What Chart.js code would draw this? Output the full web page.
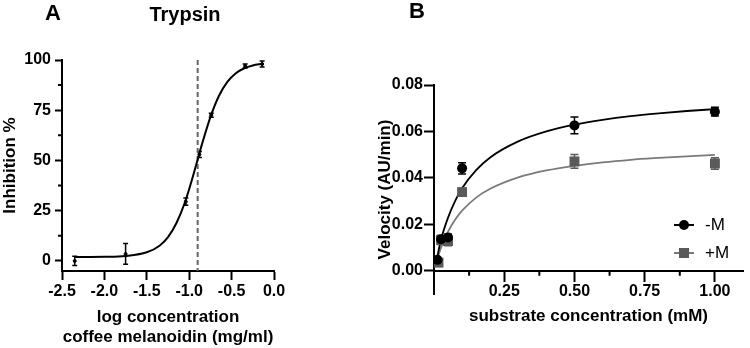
<!DOCTYPE html>
<html>
<head>
<meta charset="utf-8">
<script src="https://cdn.jsdelivr.net/npm/chart.js@4.4.1/dist/chart.umd.min.js"></script>
<style>
  html, body { margin: 0; padding: 0; background: #fff; }
  #wrap { position: relative; width: 750px; height: 348px; overflow: hidden; font-family: "Liberation Sans", Arial, sans-serif; }
  canvas { position: absolute; top: 0; }
  .lbl { position: absolute; font-weight: bold; line-height: 1; color: #000; white-space: nowrap; }
</style>
</head>
<body>
<div id="wrap">
  <canvas id="chartA" width="300" height="348" style="left:0"></canvas>
  <canvas id="chartB" width="375" height="348" style="left:375px"></canvas>
  <div class="lbl" style="left:45px;top:2px;font-size:22px">A</div>
  <div class="lbl" style="left:85px;top:4px;width:200px;text-align:center;font-size:20px">Trypsin</div>
  <div class="lbl" style="left:409px;top:0px;font-size:22px">B</div>
</div>
<script>
// ---- panel A: trypsin inhibition vs log concentration ----
const logConc = [-2.35, -1.75, -1.04, -0.88, -0.74, -0.34, -0.14];
const inhibition = [0, 3.5, 29.5, 53, 72.5, 97, 98];
const inhibitionErr = [2.3, 5.2, 1.8, 1.5, 1, 1, 1.5];
// fitted curve
const fitLogConc = [-2.35, -2.0, -1.75, -1.5, -1.35, -1.25, -1.15, -1.05, -0.95, -0.9, -0.85, -0.75, -0.65, -0.55, -0.45, -0.35, -0.25, -0.14];
const fitInhibition = [2.0, 2.1, 2.5, 4.3, 7.6, 11.9, 18.9, 29.2, 43.0, 50.5, 58.0, 71.6, 82.1, 89.1, 93.4, 95.9, 97.3, 98.1];
const ic50Log = -0.9;
const xTicksA = [-2.5, -2.0, -1.5, -1.0, -0.5, 0.0];
const yTicksA = [0, 25, 50, 75, 100];
const yMinorA = [12.5, 37.5, 62.5, 87.5];

// ---- panel B: velocity vs substrate ----
const seriesNames = ["-M", "+M"];
const substrateMinus = [0.0125, 0.025, 0.05, 0.1, 0.5, 1.0];
const velMinus = [0.0047, 0.0136, 0.0143, 0.0441, 0.0626, 0.0685];
const velMinusErr = [0.0005, 0.001, 0.0015, 0.0024, 0.0036, 0.0019];
const substratePlus = [0.016, 0.025, 0.05, 0.1, 0.5, 1.0];
const velPlus = [0.0035, 0.0133, 0.0128, 0.0339, 0.0471, 0.0462];
const velPlusErr = [0.0008, 0.002, 0.002, 0.001, 0.003, 0.0025];
const fitSubstrate = [0.0125, 0.025, 0.05, 0.075, 0.1, 0.15, 0.2, 0.3, 0.4, 0.5, 0.6, 0.7, 0.8, 0.9, 1.0];
const fitMinus = [0.0065, 0.0135, 0.0229, 0.0300, 0.0355, 0.0433, 0.0488, 0.0557, 0.0600, 0.0629, 0.0650, 0.0666, 0.0678, 0.0688, 0.0696];
const fitPlus = [0.0055, 0.0100, 0.0169, 0.0220, 0.0259, 0.0315, 0.0353, 0.0402, 0.0432, 0.0452, 0.0467, 0.0478, 0.0486, 0.0493, 0.0499];
const xTicksB = [0.25, 0.5, 0.75, 1.0];
const xMinorB = [0.125, 0.375, 0.625, 0.875];
const yTicksB = [0, 0.02, 0.04, 0.06, 0.08];

const FAMILY = "'Liberation Sans', Arial, sans-serif";
const tickFont = { family: FAMILY, size: 16, weight: 700 };
const titleFont = { family: FAMILY, size: 17, weight: 700 };
const GREY = "#5a5a5a";
const GREY_LINE = "#7a7a7a";

const pts = (xs, ys) => xs.map((x, i) => ({ x: x, y: ys[i] }));

const errorBarPlugin = {
  id: "errorBars",
  beforeDatasetsDraw(chart) {
    const { ctx, scales } = chart;
    chart.data.datasets.slice().reverse().forEach(ds => {
      if (!ds.errorBars) return;
      ctx.save();
      ctx.strokeStyle = ds.borderColor;
      ctx.lineWidth = 1.5;
      ds.data.forEach((p, i) => {
        const e = ds.errorBars[i];
        const px = scales.x.getPixelForValue(p.x);
        const top = scales.y.getPixelForValue(p.y + e);
        const bot = scales.y.getPixelForValue(p.y - e);
        const c = ds.capHalf;
        ctx.beginPath();
        ctx.moveTo(px, top); ctx.lineTo(px, bot);
        ctx.moveTo(px - c, top); ctx.lineTo(px + c, top);
        ctx.moveTo(px - c, bot); ctx.lineTo(px + c, bot);
        ctx.stroke();
      });
      ctx.restore();
    });
  }
};

// dashed line at IC50 + short minor ticks on the y axis
const panelAExtras = {
  id: "panelAExtras",
  beforeDatasetsDraw(chart) {
    const { ctx, scales } = chart;
    const px = scales.x.getPixelForValue(ic50Log);
    ctx.save();
    ctx.strokeStyle = "#666";
    ctx.lineWidth = 2;
    ctx.setLineDash([5, 3]);
    ctx.beginPath();
    ctx.moveTo(px, scales.y.getPixelForValue(100));
    ctx.lineTo(px, scales.y.getPixelForValue(-5));
    ctx.stroke();
    ctx.restore();
  },
  afterDraw(chart) {
    const { ctx, scales, chartArea } = chart;
    ctx.save();
    ctx.strokeStyle = "#000";
    ctx.lineWidth = 2;
    ctx.beginPath();
    yMinorA.forEach(v => {
      const py = scales.y.getPixelForValue(v);
      ctx.moveTo(chartArea.left - 4, py);
      ctx.lineTo(chartArea.left, py);
    });
    ctx.stroke();
    ctx.restore();
  }
};

const panelBExtras = {
  id: "panelBExtras",
  afterDraw(chart) {
    const { ctx, scales, chartArea } = chart;
    const y0 = scales.y.getPixelForValue(0);
    ctx.save();
    ctx.strokeStyle = "#000";
    ctx.lineWidth = 2;
    ctx.beginPath();
    xMinorB.forEach(v => {
      const px = scales.x.getPixelForValue(v);
      ctx.moveTo(px, y0);
      ctx.lineTo(px, y0 + 5);
    });
    ctx.stroke();

    // legend
    const lx = chartArea.right - 69;
    const rows = [
      { name: seriesNames[0], color: "#000", line: "#000", shape: "circle", y: chartArea.top + 140 },
      { name: seriesNames[1], color: GREY, line: GREY_LINE, shape: "rect", y: chartArea.top + 168 }
    ];
    rows.forEach(r => {
      ctx.strokeStyle = r.line;
      ctx.lineWidth = 2;
      ctx.beginPath();
      ctx.moveTo(lx, r.y);
      ctx.lineTo(lx + 20, r.y);
      ctx.stroke();
      ctx.fillStyle = r.color;
      if (r.shape === "circle") {
        ctx.beginPath();
        ctx.arc(lx + 10, r.y, 5, 0, Math.PI * 2);
        ctx.fill();
      } else {
        ctx.fillRect(lx + 5, r.y - 5, 10, 10);
      }
      ctx.fillStyle = "#000";
      ctx.font = "17px " + FAMILY;
      ctx.textBaseline = "middle";
      ctx.textAlign = "left";
      ctx.fillText(r.name, lx + 31, r.y);
    });
    ctx.restore();
  }
};

new Chart(document.getElementById("chartA"), {
  type: "scatter",
  data: {
    datasets: [
      {
        data: pts(logConc, inhibition),
        errorBars: inhibitionErr,
        capHalf: 2.5,
        backgroundColor: "#000",
        borderColor: "#000",
        pointRadius: 1.5,
        showLine: false
      },
      {
        data: pts(fitLogConc, fitInhibition),
        borderColor: "#000",
        borderWidth: 2,
        pointRadius: 0,
        showLine: true,
        cubicInterpolationMode: "monotone"
      }
    ]
  },
  options: {
    responsive: false,
    animation: false,
    layout: { padding: { top: 60, right: 26, bottom: 0, left: 0 } },
    plugins: { legend: { display: false }, tooltip: { enabled: false } },
    scales: {
      x: {
        type: "linear",
        min: -2.5,
        max: 0,
        afterBuildTicks: s => { s.ticks = xTicksA.map(v => ({ value: v })); },
        afterFit: s => { s.height = 77; s.paddingLeft = 0; s.paddingRight = 0; },
        border: { color: "#000", width: 2 },
        grid: { drawOnChartArea: false, tickLength: 9, tickWidth: 2, tickColor: "#000" },
        ticks: { color: "#000", font: tickFont, padding: 2, maxRotation: 0, callback: v => v.toFixed(1) },
        title: { display: true, text: ["log concentration", "coffee melanoidin (mg/ml)"], color: "#000", font: titleFont, padding: 0 }
      },
      y: {
        min: -5,
        max: 100,
        afterBuildTicks: s => { s.ticks = yTicksA.map(v => ({ value: v })); },
        afterFit: s => { s.width = 62; s.paddingTop = 0; s.paddingBottom = 0; },
        border: { color: "#000", width: 2 },
        grid: { drawOnChartArea: false, tickLength: 7, tickWidth: 2, tickColor: "#000" },
        ticks: { color: "#000", font: tickFont, padding: 4, callback: v => String(v) },
        title: { display: true, text: "Inhibition %", color: "#000", font: titleFont, padding: 0 }
      }
    }
  },
  plugins: [errorBarPlugin, panelAExtras]
});

new Chart(document.getElementById("chartB"), {
  type: "scatter",
  data: {
    datasets: [
      {
        label: seriesNames[0],
        data: pts(substrateMinus, velMinus),
        errorBars: velMinusErr,
        capHalf: 4,
        backgroundColor: "#000",
        borderColor: "#000",
        pointStyle: "circle",
        pointRadius: 5,
        pointBorderWidth: 0,
        showLine: false
      },
      {
        label: seriesNames[1],
        data: pts(substratePlus, velPlus),
        errorBars: velPlusErr,
        capHalf: 4,
        backgroundColor: GREY,
        borderColor: GREY,
        pointStyle: "rect",
        pointRadius: 7,
        pointBorderWidth: 0,
        showLine: false
      },
      {
        data: pts(fitSubstrate, fitMinus),
        borderColor: "#000",
        borderWidth: 1.8,
        pointRadius: 0,
        showLine: true,
        cubicInterpolationMode: "monotone"
      },
      {
        data: pts(fitSubstrate, fitPlus),
        borderColor: GREY_LINE,
        borderWidth: 1.8,
        pointRadius: 0,
        showLine: true,
        cubicInterpolationMode: "monotone"
      }
    ]
  },
  options: {
    responsive: false,
    animation: false,
    layout: { padding: { top: 85, right: 4, bottom: 54, left: 0 } },
    plugins: { legend: { display: false }, tooltip: { enabled: false } },
    scales: {
      x: {
        type: "linear",
        position: { y: 0 },
        min: 0,
        max: 1.1,
        afterBuildTicks: s => { s.ticks = xTicksB.map(v => ({ value: v })); },
        afterFit: s => { s.height = 56; s.paddingLeft = 0; s.paddingRight = 0; },
        border: { color: "#000", width: 2 },
        grid: { drawOnChartArea: false, tickLength: 10, tickWidth: 2, tickColor: "#000" },
        ticks: { color: "#000", font: tickFont, padding: 1, maxRotation: 0, callback: v => v.toFixed(2) },
        title: { display: true, text: "substrate concentration (mM)", color: "#000", font: titleFont, padding: 0 }
      },
      y: {
        min: -0.01,
        max: 0.08,
        afterBuildTicks: s => { s.ticks = yTicksB.map(v => ({ value: v })); },
        afterFit: s => { s.width = 59; s.paddingTop = 0; s.paddingBottom = 0; },
        border: { color: "#000", width: 2 },
        grid: { drawOnChartArea: false, tickLength: 10, tickWidth: 2, tickColor: "#000" },
        ticks: { color: "#000", font: tickFont, padding: 1, callback: v => v.toFixed(2) },
        title: { display: true, text: "Velocity (AU/min)", color: "#000", font: titleFont, padding: 0 }
      }
    }
  },
  plugins: [errorBarPlugin, panelBExtras]
});
</script>
</body>
</html>
